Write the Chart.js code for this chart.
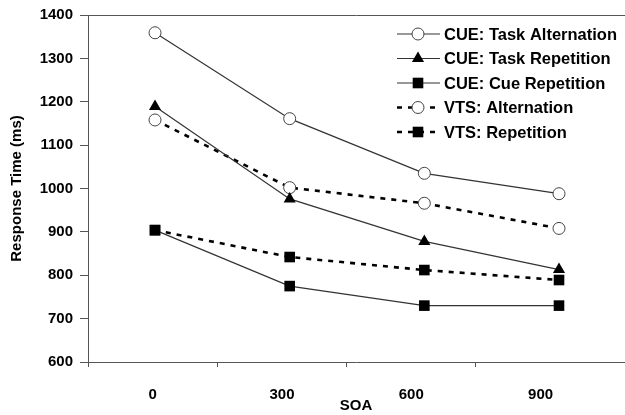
<!DOCTYPE html>
<html><head><meta charset="utf-8">
<script src="https://cdn.jsdelivr.net/npm/chart.js@4/dist/chart.umd.min.js"></script>
<style>html,body{margin:0;padding:0;background:#fff}#wrap{width:625px;height:415px}</style>
</head><body><div id="wrap"><canvas id="c" width="625" height="415"></canvas></div>
<script>
// ---- data ----
const soa = [0, 300, 600, 900];
const xTickLabels = ['0', '300', '600', '900'];
const yTickValues = [600, 700, 800, 900, 1000, 1100, 1200, 1300, 1400];
const seriesLabels = ['CUE: Task Alternation', 'CUE: Task Repetition', 'CUE: Cue Repetition', 'VTS: Alternation', 'VTS: Repetition'];
const cueTaskAlternation = [1359, 1161, 1035, 988];
const cueTaskRepetition = [1189, 976, 878, 813];
const cueCueRepetition = [904, 775, 730, 730];
const vtsAlternation = [1158, 1002, 966, 908];
const vtsRepetition = [904, 842, 812, 789];

const FONT = "'Liberation Sans', Arial, Helvetica, sans-serif";
Chart.defaults.font.family = FONT;
const axisColor = '#555';

function pts(vals) { return soa.map((x, i) => ({ x: x, y: vals[i] })); }

const solid = { borderColor: '#333', borderWidth: 1.2, borderDash: [] };
const dashed = { borderColor: '#000', borderWidth: 2.6, borderDash: [5, 6] };
const openCircle = { pointStyle: 'circle', pointRadius: 6, pointBackgroundColor: '#fff', pointBorderColor: '#444', pointBorderWidth: 1 };
const filledTri = { pointStyle: 'triangle', pointRadius: 7, pointBackgroundColor: '#000', pointBorderColor: '#000', pointBorderWidth: 0 };
const filledRect = { pointStyle: 'rect', pointRadius: 7.5, pointBackgroundColor: '#000', pointBorderColor: '#000', pointBorderWidth: 0 };

const datasets = [
  Object.assign({ label: seriesLabels[0], data: pts(cueTaskAlternation) }, solid, openCircle),
  Object.assign({ label: seriesLabels[1], data: pts(cueTaskRepetition) }, solid, filledTri),
  Object.assign({ label: seriesLabels[2], data: pts(cueCueRepetition) }, solid, filledRect),
  Object.assign({ label: seriesLabels[3], data: pts(vtsAlternation) }, dashed, openCircle),
  Object.assign({ label: seriesLabels[4], data: pts(vtsRepetition) }, dashed, filledRect)
].map(d => Object.assign(d, { fill: false, tension: 0, xAxisID: 'x', yAxisID: 'y' }));

// custom legend drawn inside the plot (line sample with marker in the middle)
const insideLegend = {
  id: 'insideLegend',
  afterDatasetsDraw(chart) {
    const ctx = chart.ctx;
    const x0 = 397, x1 = 440, xm = 418, xt = 444, yStart = 34, step = 24.5;
    ctx.save();
    chart.data.datasets.forEach((ds, i) => {
      const y = yStart + i * step;
      ctx.beginPath();
      ctx.strokeStyle = ds.borderColor;
      ctx.lineWidth = ds.borderWidth;
      ctx.setLineDash(ds.borderDash || []);
      ctx.moveTo(x0, y); ctx.lineTo(x1, y);
      ctx.stroke();
      ctx.setLineDash([]);
      ctx.fillStyle = ds.pointBackgroundColor;
      ctx.strokeStyle = ds.pointBorderColor;
      ctx.lineWidth = ds.pointBorderWidth;
      Chart.helpers.drawPoint(ctx, { pointStyle: ds.pointStyle, rotation: 0, radius: ds.pointRadius, borderWidth: ds.pointBorderWidth }, xm, y);
      ctx.fillStyle = '#000';
      ctx.font = "bold 16.5px " + FONT;
      ctx.textAlign = 'left';
      ctx.textBaseline = 'middle';
      ctx.fillText(ds.label, xt, y + 1);
    });
    ctx.restore();
  }
};

new Chart(document.getElementById('c'), {
  type: 'line',
  data: { datasets: datasets },
  plugins: [insideLegend],
  options: {
    responsive: false,
    devicePixelRatio: 1,
    animation: false,
    layout: { autoPadding: false, padding: { left: 8, top: 15, right: 1, bottom: 0 } },
    plugins: { legend: { display: false }, tooltip: { enabled: false } },
    scales: {
      x: { type: 'linear', min: -149.3, max: 1044.8, display: false },
      xl: {
        type: 'linear', position: 'bottom', min: -0.5, max: 3.645,
        afterBuildTicks: s => { s.ticks = xTickLabels.map((_, i) => ({ value: i })); },
        ticks: { callback: v => xTickLabels[v], color: '#000', font: { size: 15, weight: 'bold' }, padding: 19, maxRotation: 0, autoSkip: false },
        grid: { offset: true, drawOnChartArea: false, tickLength: 5, color: axisColor, tickColor: c => (c.tick ? axisColor : 'rgba(0,0,0,0)') },
        border: { color: axisColor, width: 1 },
        title: { display: true, text: 'SOA', color: '#000', font: { size: 15, weight: 'bold' }, padding: 0 },
        afterFit: s => { s.height = 53; s.paddingLeft = 0; s.paddingRight = 0; }
      },
      xt: {
        type: 'linear', position: 'top', display: true,
        ticks: { display: false }, grid: { display: false },
        border: { display: true, color: axisColor, width: 1 },
        afterFit: s => { s.height = 0; s.paddingLeft = 0; s.paddingRight = 0; }
      },
      y: {
        type: 'linear', min: 600, max: 1400,
        afterBuildTicks: s => { s.ticks = yTickValues.map(v => ({ value: v })); },
        ticks: { color: '#000', font: { size: 15, weight: 'bold' }, padding: 7, callback: v => String(v) },
        grid: { drawOnChartArea: false, tickLength: 8, color: axisColor },
        border: { color: axisColor, width: 1 },
        title: { display: true, text: 'Response Time (ms)', color: '#000', font: { size: 15, weight: 'bold' }, padding: 0 },
        afterFit: s => { s.width = 80; s.paddingTop = 0; s.paddingBottom = 0; }
      }
    }
  }
});
</script>
</body></html>
